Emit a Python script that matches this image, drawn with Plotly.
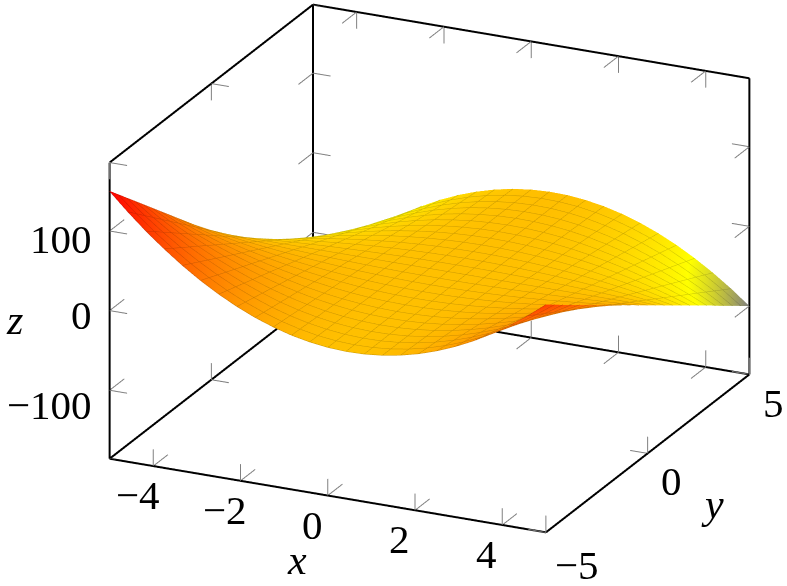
import plotly.graph_objects as go

x_values = [-5.0, -4.583, -4.167, -3.75, -3.333, -2.917, -2.5, -2.083, -1.667, -1.25, -0.833, -0.417, 0.0,
            0.417, 0.833, 1.25, 1.667, 2.083, 2.5, 2.917, 3.333, 3.75, 4.167, 4.583, 5.0]
y_values = list(x_values)
z_rows = [
 [150.0,127.9,107.6,89.1,72.2,57.1,43.8,32.1,22.2,14.1,7.6,3.0,0,-1.2,-0.7,1.6,5.6,11.3,18.8,28.0,38.9,51.6,66.0,82.1,100.0],
 [137.5,117.3,98.7,81.6,66.2,52.4,40.1,29.4,20.4,12.9,7.0,2.7,0,-1.1,-0.6,1.4,5.1,10.3,17.2,25.6,35.7,47.3,60.5,75.3,91.7],
 [125.0,106.6,89.7,74.2,60.2,47.6,36.5,26.8,18.5,11.7,6.4,2.5,0,-1.0,-0.6,1.3,4.6,9.4,15.6,23.3,32.4,43.0,55.0,68.4,83.3],
 [112.5,96.0,80.7,66.8,54.2,42.8,32.8,24.1,16.7,10.5,5.7,2.2,0,-0.9,-0.5,1.2,4.2,8.5,14.1,21.0,29.2,38.7,49.5,61.6,75.0],
 [100.0,85.3,71.8,59.4,48.1,38.1,29.2,21.4,14.8,9.4,5.1,2.0,0,-0.8,-0.5,1.0,3.7,7.5,12.5,18.6,25.9,34.4,44.0,54.7,66.7],
 [87.5,74.6,62.8,52.0,42.1,33.3,25.5,18.7,13.0,8.2,4.5,1.7,0,-0.7,-0.4,0.9,3.2,6.6,10.9,16.3,22.7,30.1,38.5,47.9,58.3],
 [75.0,64.0,53.8,44.5,36.1,28.6,21.9,16.1,11.1,7.0,3.8,1.5,0,-0.6,-0.3,0.8,2.8,5.6,9.4,14.0,19.4,25.8,33.0,41.1,50.0],
 [62.5,53.3,44.9,37.1,30.1,23.8,18.2,13.4,9.3,5.9,3.2,1.2,0,-0.5,-0.3,0.7,2.3,4.7,7.8,11.6,16.2,21.5,27.5,34.2,41.7],
 [50.0,42.7,35.9,29.7,24.1,19.0,14.6,10.7,7.4,4.7,2.5,1.0,0,-0.4,-0.2,0.5,1.9,3.8,6.3,9.3,13.0,17.2,22.0,27.4,33.3],
 [37.5,32.0,26.9,22.3,18.1,14.3,10.9,8.0,5.6,3.5,1.9,0.7,0,-0.3,-0.2,0.4,1.4,2.8,4.7,7.0,9.7,12.9,16.5,20.5,25.0],
 [25.0,21.3,17.9,14.8,12.0,9.5,7.3,5.4,3.7,2.3,1.3,0.5,0,-0.2,-0.1,0.3,0.9,1.9,3.1,4.7,6.5,8.6,11.0,13.7,16.7],
 [12.5,10.7,9.0,7.4,6.0,4.8,3.6,2.7,1.9,1.2,0.6,0.2,0,-0.1,-0.1,0.1,0.5,0.9,1.6,2.3,3.2,4.3,5.5,6.8,8.3],
 [0,0,0,0,0,0,0,0,0,0,0,0,0,0,0,0,0,0,0,0,0,0,0,0,0],
 [-12.5,-10.7,-9.0,-7.4,-6.0,-4.8,-3.6,-2.7,-1.9,-1.2,-0.6,-0.2,0,0.1,0.1,-0.1,-0.5,-0.9,-1.6,-2.3,-3.2,-4.3,-5.5,-6.8,-8.3],
 [-25.0,-21.3,-17.9,-14.8,-12.0,-9.5,-7.3,-5.4,-3.7,-2.3,-1.3,-0.5,0,0.2,0.1,-0.3,-0.9,-1.9,-3.1,-4.7,-6.5,-8.6,-11.0,-13.7,-16.7],
 [-37.5,-32.0,-26.9,-22.3,-18.1,-14.3,-10.9,-8.0,-5.6,-3.5,-1.9,-0.7,0,0.3,0.2,-0.4,-1.4,-2.8,-4.7,-7.0,-9.7,-12.9,-16.5,-20.5,-25.0],
 [-50.0,-42.7,-35.9,-29.7,-24.1,-19.0,-14.6,-10.7,-7.4,-4.7,-2.5,-1.0,0,0.4,0.2,-0.5,-1.9,-3.8,-6.3,-9.3,-13.0,-17.2,-22.0,-27.4,-33.3],
 [-62.5,-53.3,-44.9,-37.1,-30.1,-23.8,-18.2,-13.4,-9.3,-5.9,-3.2,-1.2,0,0.5,0.3,-0.7,-2.3,-4.7,-7.8,-11.6,-16.2,-21.5,-27.5,-34.2,-41.7],
 [-75.0,-64.0,-53.8,-44.5,-36.1,-28.6,-21.9,-16.1,-11.1,-7.0,-3.8,-1.5,0,0.6,0.3,-0.8,-2.8,-5.6,-9.4,-14.0,-19.4,-25.8,-33.0,-41.1,-50.0],
 [-87.5,-74.6,-62.8,-52.0,-42.1,-33.3,-25.5,-18.7,-13.0,-8.2,-4.5,-1.7,0,0.7,0.4,-0.9,-3.2,-6.6,-10.9,-16.3,-22.7,-30.1,-38.5,-47.9,-58.3],
 [-100.0,-85.3,-71.8,-59.4,-48.1,-38.1,-29.2,-21.4,-14.8,-9.4,-5.1,-2.0,0,0.8,0.5,-1.0,-3.7,-7.5,-12.5,-18.6,-25.9,-34.4,-44.0,-54.7,-66.7],
 [-112.5,-96.0,-80.7,-66.8,-54.2,-42.8,-32.8,-24.1,-16.7,-10.5,-5.7,-2.2,0,0.9,0.5,-1.2,-4.2,-8.5,-14.1,-21.0,-29.2,-38.7,-49.5,-61.6,-75.0],
 [-125.0,-106.6,-89.7,-74.2,-60.2,-47.6,-36.5,-26.8,-18.5,-11.7,-6.4,-2.5,0,1.0,0.6,-1.3,-4.6,-9.4,-15.6,-23.3,-32.4,-43.0,-55.0,-68.4,-83.3],
 [-137.5,-117.3,-98.7,-81.6,-66.2,-52.4,-40.1,-29.4,-20.4,-12.9,-7.0,-2.7,0,1.1,0.6,-1.4,-5.1,-10.3,-17.2,-25.6,-35.7,-47.3,-60.5,-75.3,-91.7],
 [-150.0,-127.9,-107.6,-89.1,-72.2,-57.1,-43.8,-32.1,-22.2,-14.1,-7.6,-3.0,0,1.2,0.7,-1.6,-5.6,-11.3,-18.8,-28.0,-38.9,-51.6,-66.0,-82.1,-100.0],
]
x_ticks = [-4, -2, 0, 2, 4]
y_ticks = [-5, 0, 5]
z_ticks = [-100, 0, 100]
x_range = (-5, 5)
y_range = (-5, 5)
z_range = (-186, 186)

FONT = "Liberation Serif"
SIZE = 41
TITLE_SIZE = 42
GRAY = "rgb(128,128,128)"

face_scale = [[0, "rgb(0,0,255)"], [1/3, "rgb(255,255,0)"], [2/3, "rgb(255,128,0)"], [1, "rgb(255,0,0)"]]
mesh_scale = [[0, "rgb(0,0,204)"], [1/3, "rgb(204,204,0)"], [2/3, "rgb(204,102,0)"], [1, "rgb(204,0,0)"]]

flat = dict(ambient=1, diffuse=0, specular=0, fresnel=0, roughness=1)
mesh_line = dict(show=True, usecolormap=True, width=4, highlight=False,
                 start=x_range[0], end=x_range[1], size=5 / 12)
off = dict(show=False, highlight=False)

fig = go.Figure()
fig.add_surface(x=x_values, y=y_values, z=z_rows, colorscale=face_scale, cmin=-150, cmax=150,
                showscale=False, lighting=flat, hoverinfo="skip",
                contours=dict(x=off, y=off, z=off))
fig.add_surface(x=x_values, y=y_values, z=z_rows, colorscale=mesh_scale, cmin=-150, cmax=150,
                showscale=False, lighting=flat, hoverinfo="skip", hidesurface=True,
                contours=dict(x=mesh_line, y=mesh_line, z=off))

x0, x1 = x_range
y0, y1 = y_range
z0, z1 = z_range


def segments(pairs):
    xs, ys, zs = [], [], []
    for a, b in pairs:
        xs += [a[0], b[0], None]
        ys += [a[1], b[1], None]
        zs += [a[2], b[2], None]
    return xs, ys, zs


edges = [
    ((x0, y0, z0), (x1, y0, z0)), ((x1, y0, z0), (x1, y1, z0)),
    ((x1, y1, z0), (x0, y1, z0)), ((x0, y1, z0), (x0, y0, z0)),
    ((x0, y0, z0), (x0, y0, z1)), ((x0, y1, z0), (x0, y1, z1)), ((x1, y1, z0), (x1, y1, z1)),
    ((x0, y0, z1), (x0, y1, z1)), ((x0, y1, z1), (x1, y1, z1)),
]
ex, ey, ez = segments(edges)
fig.add_scatter3d(x=ex, y=ey, z=ez, mode="lines", line=dict(color="black", width=4),
                  hoverinfo="skip", showlegend=False)

tx, ty, tz = 0.4, 0.72, 21
ticks = []
for t in x_ticks:
    ticks += [((t, y0, z0), (t, y0 + ty, z0)), ((t, y0, z0), (t, y0, z0 + tz)),
              ((t, y1, z1), (t, y1 - ty, z1)), ((t, y1, z1), (t, y1, z1 - tz)),
              ((t, y1, z0), (t, y1 - ty, z0)), ((t, y1, z0), (t, y1, z0 + tz))]
for t in y_ticks:
    ticks += [((x1, t, z0), (x1 - tx, t, z0)), ((x1, t, z0), (x1, t, z0 + tz)),
              ((x0, t, z0), (x0 + tx, t, z0)), ((x0, t, z0), (x0, t, z0 + tz)),
              ((x0, t, z1), (x0 + tx, t, z1)), ((x0, t, z1), (x0, t, z1 - tz))]
for t in z_ticks:
    ticks += [((x0, y0, t), (x0 + tx, y0, t)), ((x0, y0, t), (x0, y0 + ty, t)),
              ((x0, y1, t), (x0 + tx, y1, t)), ((x0, y1, t), (x0, y1 - ty, t)),
              ((x1, y1, t), (x1 - tx, y1, t)), ((x1, y1, t), (x1, y1 - ty, t))]
kx, ky, kz = segments(ticks)
fig.add_scatter3d(x=kx, y=ky, z=kz, mode="lines", line=dict(color=GRAY, width=2),
                  hoverinfo="skip", showlegend=False)


def label(text, x, y, z, dx, dy, size=SIZE, anchor="center"):
    return dict(x=x, y=y, z=z, text=text, showarrow=False, xshift=dx, yshift=-dy,
                xanchor=anchor, yanchor="middle", font=dict(family=FONT, size=size, color="black"))


def num(v):
    return str(v).replace("-", "\u2212")


label_z = z0 + 1
notes = []
for t in x_ticks:
    notes.append(label(num(t), t, y0, label_z, -16, 30))
y_offsets = {-5: (31, 34), 0: (24, 29), 5: (24, 29)}
for t in y_ticks:
    notes.append(label(num(t), x1, t, label_z, *y_offsets[t]))
z_offsets = {-100: 15, 0: 4, 100: 8}
for t in z_ticks:
    notes.append(label(num(t), x0, y0, t, -16, z_offsets[t], anchor="right"))
notes.append(label("<i>x</i>", 0, y0, label_z, -31, 65, TITLE_SIZE))
notes.append(label("<i>y</i>", x1, 0, label_z, 65, 52, TITLE_SIZE))
notes.append(label("<i>z</i>", x0, y0, 0, -96, 9, TITLE_SIZE))

hidden = dict(visible=False, showgrid=False, zeroline=False, showline=False, showticklabels=False,
              showbackground=False, showspikes=False)
eye_dir = (0.394, -0.845, 0.362)
k = 2.0
box_scale = 1.793

fig.update_layout(
    width=787, height=586, margin=dict(l=0, r=0, t=0, b=0), showlegend=False,
    paper_bgcolor="white",
    scene=dict(
        domain=dict(x=[0.092, 1.0], y=[0.084, 1.0]),
        xaxis=dict(range=list(x_range), **hidden),
        yaxis=dict(range=list(y_range), **hidden),
        zaxis=dict(range=list(z_range), **hidden),
        aspectmode="manual", aspectratio=dict(x=box_scale, y=box_scale, z=0.66 * box_scale),
        camera=dict(projection=dict(type="orthographic"), up=dict(x=0, y=0, z=1),
                    center=dict(x=0, y=0, z=0),
                    eye=dict(x=eye_dir[0] * k, y=eye_dir[1] * k, z=eye_dir[2] * k)),
        annotations=notes,
    ),
)
fig.write_html("out.html", config=dict(displayModeBar=False),
               post_script="document.body.style.margin='0';")
